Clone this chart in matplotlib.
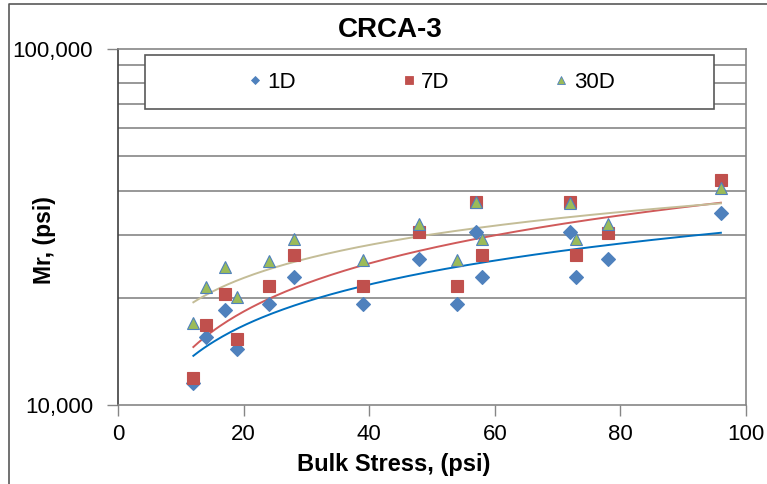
import numpy as np
import matplotlib.pyplot as plt
from matplotlib.ticker import FixedLocator, FuncFormatter, NullFormatter
from matplotlib.patches import Rectangle
from matplotlib.lines import Line2D

plt.rcParams['font.family'] = ['Liberation Sans', 'DejaVu Sans']

# bulk stress (psi) for the 15 load sequences
bulk = [12, 14, 17, 19, 24, 28, 39, 48, 54, 57, 58, 72, 73, 78, 96]

# resilient modulus (psi) after 1, 7 and 30 days of curing
mr_1d = [11550, 15490, 18490, 14340, 19260, 22890, 19220, 25760, 19220, 30620,
         22940, 30620, 22890, 25760, 34550]
mr_7d = [11890, 16780, 20460, 15290, 21640, 26390, 21590, 30550, 21590, 37240,
         26440, 37240, 26390, 30420, 42850]
mr_30d = [16960, 21410, 24470, 20150, 25440, 29210, 25550, 32240, 25550, 37100,
          29210, 37030, 29210, 32180, 40780]

labels = ['1D', '7D', '30D']
W, H = 767, 484

fig = plt.figure(figsize=(W / 100, H / 100), dpi=100)
ax = fig.add_axes([118 / W, 1 - 405 / H, (746 - 118) / W, (405 - 49) / H])

series = [
    (mr_1d, 'D', '#4F81BD', '#4F81BD', 7, '#0070C0'),
    (mr_7d, 's', '#C0504D', '#C0504D', 8, '#D05A5A'),
    (mr_30d, '^', '#9BBB59', '#4F81BD', 8, '#C4BD97'),
]

x = np.array(bulk, dtype=float)
xs = np.linspace(x.min(), x.max(), 200)
handles = []
for (vals, mk, fc, ec, ms, lc), lab in zip(series, labels):
    y = np.array(vals, dtype=float)
    # power trendline y = a * x^b
    b, loga = np.polyfit(np.log(x), np.log(y), 1)
    ax.plot(xs, np.exp(loga) * xs ** b, color=lc, lw=1.4, zorder=2)
    ax.plot(x, y, mk, ms=ms, mfc=fc, mec=ec, mew=0.8, zorder=3, ls='none')
    handles.append(Line2D([], [], marker=mk, ms=ms * 0.65, mfc=fc, mec=ec,
                          mew=0.6, ls='none', label=lab))

ax.set_yscale('log')
ax.set_xlim(0, 100)
ax.set_ylim(10000, 100000)
ax.set_xticks(range(0, 101, 20))
ax.yaxis.set_major_locator(FixedLocator([10000, 100000]))
ax.yaxis.set_minor_locator(FixedLocator(range(20000, 100000, 10000)))
ax.yaxis.set_major_formatter(FuncFormatter(lambda v, p: f'{int(v):,}'))
ax.yaxis.set_minor_formatter(NullFormatter())
ax.tick_params(axis='y', which='minor', length=0)
ax.tick_params(axis='both', which='major', direction='out', length=8,
               width=1, color='#868686', labelsize=16, colors='#868686',
               labelcolor='black')
ax.tick_params(axis='y', which='major', pad=10)
ax.tick_params(axis='x', which='major', pad=6)
ax.grid(True, axis='y', which='minor', color='#868686', lw=1.2)
for s in ['top', 'right', 'bottom']:
    ax.spines[s].set_color('#868686')
    ax.spines[s].set_linewidth(1.2)
ax.spines['left'].set_color('#404040')
ax.spines['left'].set_linewidth(1.2)

# legend box across the top of the plot area
fig.patches.append(Rectangle((145 / W, 1 - 109 / H), (714 - 145) / W, 54 / H,
                             transform=fig.transFigure, facecolor='white',
                             edgecolor='#595959', lw=1.2, zorder=5))
leg = fig.legend(handles=handles, loc='center', ncol=3,
                 bbox_to_anchor=(430 / W, 1 - 82 / H), frameon=False,
                 fontsize=16, handlelength=0.9, handletextpad=0.1,
                 columnspacing=4.6)
leg.set_zorder(6)

fig.text(390 / W, 1 - 30 / H, 'CRCA-3', ha='center', va='center',
         fontsize=20, fontweight='bold')
fig.text(394 / W, 1 - 465 / H, 'Bulk Stress, (psi)', ha='center', va='center',
         fontsize=17, fontweight='bold')
fig.text(44 / W, 1 - 240 / H, 'Mr, (psi)', ha='center', va='center',
         rotation=90, fontsize=16.5, fontweight='bold')

# chart border (only left and top edges fall inside the image)
fig.add_artist(Line2D([9 / W, 9 / W, 1.0], [0.0, 1 - 4 / H, 1 - 4 / H],
                      transform=fig.transFigure, color='#595959', lw=1.2))

fig.savefig('out.png', dpi=100)
